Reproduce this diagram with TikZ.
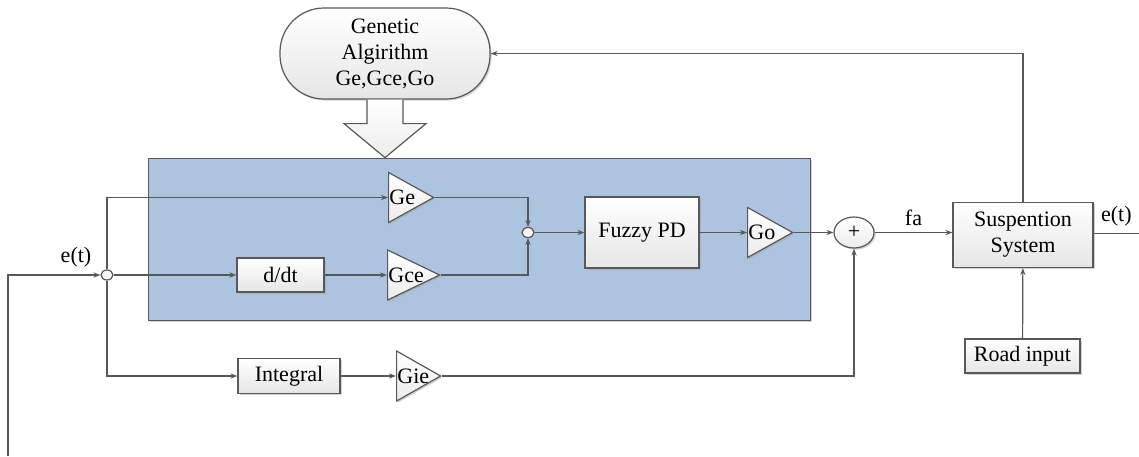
\documentclass[tikz,border=0pt]{standalone}
\usepackage{fontspec}
\setmainfont{Liberation Serif}
\newfontfamily\diagfont{Liberation Serif}
\usetikzlibrary{positioning}
\usetikzlibrary{calc}
\usetikzlibrary{shapes.geometric}
\usetikzlibrary{arrows.meta}
\usetikzlibrary{shadows}

\definecolor{panelblue}{RGB}{173,196,224}
\definecolor{linegray}{RGB}{88,88,88}

\begin{document}
\begin{tikzpicture}[x=0.5pt, y=-0.5pt, >={Stealth[length=3.5pt,width=2.6pt]},
                    font=\diagfont\fontsize{11}{13}\selectfont,
                    conn/.style={draw=linegray, line width=0.6pt},
                    shade/.style={drop shadow={shadow xshift=0.8pt, shadow yshift=-0.8pt, fill=gray!70, opacity=0.5}},
                    block/.style={draw=linegray, line width=0.6pt, top color=white, bottom color=gray!20, inner sep=0pt, shade},
                    gain/.style={isosceles triangle, isosceles triangle stretches, draw=linegray, line width=0.6pt,
                                 top color=white, bottom color=gray!15, inner sep=0pt, anchor=west,
                                 minimum height=22.5pt, minimum width=25pt, shade},
                    gaintext/.style={anchor=west, inner sep=0.5pt},
                    junc/.style={ellipse, draw=linegray, line width=0.6pt, fill=gray!8, minimum width=6pt, minimum height=5pt, inner sep=0pt}]
    \useasboundingbox (0,0) rectangle (1139,456);

    \node[draw=linegray, line width=0.6pt, fill=panelblue, minimum width=331pt, minimum height=81pt, inner sep=0pt, shade] (ctrl) at (479.25,239.25) {};

    \node[block, rounded corners=22pt, minimum width=105pt, minimum height=45.5pt, align=center] (ga) at (385,53.5) {Genetic\\Algirithm\\Ge,Gce,Go};
    \draw[draw=linegray, line width=0.6pt, top color=white, bottom color=gray!15]
        ($(ga.south)+(-18,0)$) -- ++(0,24) -- ++(-23,0) -- (ga.south |- ctrl.north) -- ($(ga.south)+(41,24)$) -- ++(-23,0) -- ++(0,-24);

    \node[junc] (e) at (107,275) {};
    \node (elabel) at (76,257) {e(t)};
    \node[block, minimum width=43.5pt, minimum height=17pt] (ddt) at (280.5,275) {d/dt};
    \node[gain, label={[gaintext]west:Ge}] (ge) at (388,197.5) {};
    \node[gain, minimum height=26pt, label={[gaintext]west:Gce}] (gce) at (387,275) {};
    \node[junc] (mix) at (528,232.5) {};
    \node[block, minimum width=57pt, minimum height=35.5pt] (fpd) at (642,232.5) {Fuzzy PD};
    \node[gain, label={[gaintext]west:Go}] (go) at (747,232.5) {};
    \node[ellipse, draw=linegray, line width=0.6pt, top color=white, bottom color=gray!15, minimum width=20pt, minimum height=15.5pt, inner sep=0pt, shade] (sum) at (854,232.5) {+};
    \node[block, minimum width=70pt, minimum height=32.5pt, align=center] (sys) at (1023,235) {Suspention\\System};
    \node[block, minimum width=57.5pt, minimum height=17pt] (road) at (1022.5,356) {Road input};
    \node[block, minimum width=51pt, minimum height=17.5pt] (int) at (289,376) {Integral};
    \node[gain, minimum height=22pt, label={[gaintext]west:Gie}] (gie) at (396,376) {};

    \coordinate (fb) at (8,456);
    \coordinate (out) at (1139,233.5);

    \draw[conn,->] (fb) |- (e.west);
    \draw[conn,->] (e.north) |- (ge.west);
    \draw[conn,->] (e) -- (ddt);
    \draw[conn,->] (ddt) -- (gce.west);
    \draw[conn,->] (ge.apex) -| (mix.north);
    \draw[conn,->] (gce.apex) -| (mix.south);
    \draw[conn,->] (mix) -- (fpd);
    \draw[conn,->] (fpd) -- (go.west);
    \draw[conn,->] (go.apex) -- (sum);
    \draw[conn,->] (sum) -- (sum -| sys.west) node[midway, above] {fa};
    \draw[conn] (out -| sys.east) -- (out) node[midway, above] {e(t)};
    \draw[conn,->] (sys.north) |- (ga.east);
    \draw[conn,->] (road) -- (sys);
    \draw[conn,->] (e.south) |- (int.west);
    \draw[conn,->] (int) -- (gie.west);
    \draw[conn,->] (gie.apex) -| (sum.south);
\end{tikzpicture}
\end{document}
